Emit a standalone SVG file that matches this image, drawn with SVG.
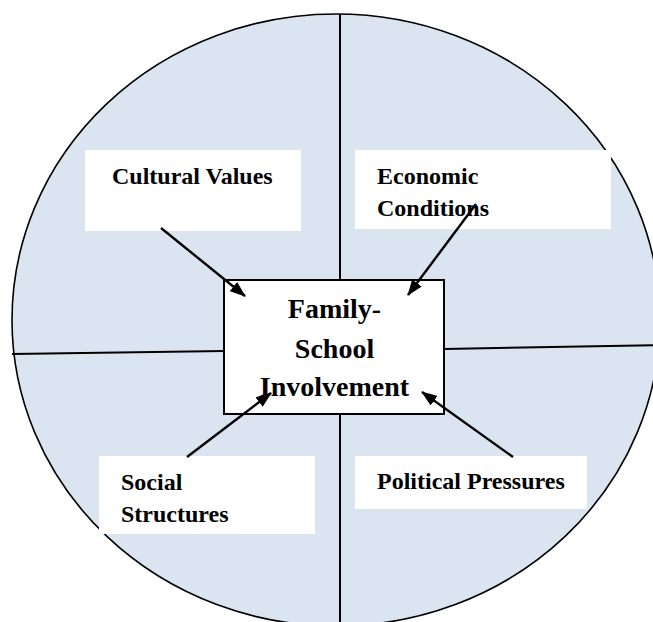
<svg xmlns="http://www.w3.org/2000/svg" width="653" height="622" viewBox="0 0 653 622">
<style>
.bg{fill:#dbe5f1;stroke:#000;stroke-width:1.6}
.div{stroke:#000;stroke-width:2;fill:none}
.lbl{fill:#fff;stroke:none}
.t{font-family:"Liberation Serif","Times New Roman",serif;font-weight:bold;font-size:24px;fill:#000}
.tc{font-family:"Liberation Serif","Times New Roman",serif;font-weight:bold;font-size:28px;fill:#000;text-anchor:middle}
.arr{stroke:#000;stroke-width:2.4;fill:none;marker-end:url(#ah)}
</style>
<defs>
<marker id="ah" viewBox="0 0 16 12" refX="15" refY="6" markerWidth="16" markerHeight="12" markerUnits="userSpaceOnUse" orient="auto">
<path d="M0,0 L16,6 L0,12 z" fill="#000"/>
</marker>
</defs>
<g id="background">
<ellipse class="bg" cx="336" cy="320" rx="324" ry="306"/>
<line class="div" x1="340" y1="14" x2="340" y2="626"/>
<line class="div" x1="12" y1="354" x2="224" y2="351"/>
<line class="div" x1="444" y1="349" x2="660" y2="345"/>
</g>
<g id="cultural">
<rect class="lbl" x="85" y="150" width="216" height="81"/>
<text class="t" x="112" y="184">Cultural Values</text>
</g>
<g id="economic">
<rect class="lbl" x="355" y="150" width="256" height="79"/>
<text class="t" x="377" y="184">Economic</text>
<text class="t" x="377" y="216">Conditions</text>
</g>
<g id="social">
<rect class="lbl" x="99" y="456" width="216" height="78"/>
<text class="t" x="121" y="490">Social</text>
<text class="t" x="121" y="522">Structures</text>
</g>
<g id="political">
<rect class="lbl" x="355" y="456" width="232" height="53"/>
<text class="t" x="377" y="489">Political Pressures</text>
</g>
<g id="center">
<rect x="224" y="280" width="220" height="134" fill="#fff" stroke="#000" stroke-width="2"/>
<text class="tc" x="334.5" y="318">Family-</text>
<text class="tc" x="334.5" y="358">School</text>
<text class="tc" x="334.5" y="396">Involvement</text>
</g>
<g id="connectors">
<line class="arr" x1="161" y1="228" x2="245" y2="296"/>
<line class="arr" x1="476" y1="204" x2="408" y2="295"/>
<line class="arr" x1="187" y1="457" x2="271" y2="393"/>
<line class="arr" x1="513" y1="457" x2="422" y2="392"/>
</g>
</svg>
